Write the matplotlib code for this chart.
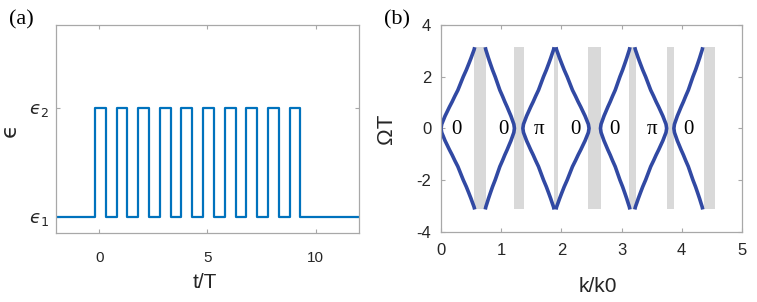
import matplotlib.pyplot as plt

# panel (a): square-wave modulation, high between rise and fall of each period
pulse_rise = [-0.2, 0.8, 1.8, 2.8, 3.8, 4.8, 5.8, 6.8, 7.8, 8.8]
pulse_fall = [0.3, 1.3, 2.3, 3.3, 4.3, 5.3, 6.3, 7.3, 8.3, 9.3]
eps_low, eps_high = 1, 2
t_start, t_end = -2, 12

# panel (b): band curves, each goes from a vertex at OmegaT=0 to an end at +-pi
curve_vertex = [0.0, 1.22, 1.36, 2.46, 2.65, 3.75, 3.87]
curve_end = [0.56, 0.735, 1.88, 1.91, 3.14, 3.22, 4.35]
# profile: fraction of the way vertex -> end vs OmegaT
prof_omega = [0.0, 0.16, 0.32, 0.48, 0.64, 0.83, 1.03, 1.25, 1.48, 1.74,
              2.0, 2.26, 2.52, 2.72, 2.9, 3.04, 3.1416]
prof_frac = [0.0, 0.02, 0.07, 0.12, 0.18, 0.25, 0.33, 0.41, 0.50, 0.58,
             0.66, 0.75, 0.83, 0.89, 0.94, 0.98, 1.0]

gap_left = [0.55, 1.207, 1.875, 2.44, 3.125, 3.75, 4.37]
gap_right = [0.745, 1.373, 1.94, 2.66, 3.236, 3.88, 4.56]

gap_label_k = [0.26, 1.03, 1.63, 2.24, 2.89, 3.50, 4.12]
gap_label_txt = ["0", "0", "π", "0", "0", "π", "0"]

plt.rcParams['mathtext.fontset'] = 'dejavusans'
sans = ['Liberation Sans', 'DejaVu Sans']
serif = ['Liberation Serif', 'DejaVu Serif']
spine_col = '#a8a8a8'
txt_col = '#262626'

fig = plt.figure(figsize=(7.57, 3.02), dpi=100)
ax1 = fig.add_axes([0.074, 0.228, 0.400, 0.689])
ax2 = fig.add_axes([0.5826, 0.233, 0.3974, 0.684])

# ---- (a)
tt = [t_start]
ee = [eps_low]
for r, f in zip(pulse_rise, pulse_fall):
    tt += [r, r, f, f]
    ee += [eps_low, eps_high, eps_high, eps_low]
tt.append(t_end)
ee.append(eps_low)
ax1.plot(tt, ee, color='#0072BD', lw=1.6)
ax1.set_xlim(t_start, t_end)
ax1.set_ylim(0.85, 2.76)
ax1.set_xticks([0, 5, 10])
ax1.set_yticks([1, 2])
ax1.set_yticklabels([r'$ϵ_1$', r'$ϵ_2$'], fontsize=13)
ax1.tick_params(axis='x', pad=13, labelsize=11)
ax1.tick_params(axis='y', pad=5)
ax1.set_xlabel('t/T', fontsize=15, family=sans, color=txt_col)
ax1.xaxis.set_label_coords(0.49, -0.19)
ax1.set_ylabel('ϵ', fontsize=16, color=txt_col)
ax1.yaxis.set_label_coords(-0.12, 0.495)
fig.text(0.028, 0.935, '(a)', fontsize=16, family=serif, ha='center', va='center')

# ---- (b)
for a, b in zip(gap_left, gap_right):
    ax2.fill_between([a, b], -3.1416, 3.1416, color='#d9d9d9', lw=0)
for kv, ke in zip(curve_vertex, curve_end):
    up_k = [kv + (ke - kv) * f for f in prof_frac]
    ks = up_k[::-1] + up_k[1:]
    ws = [-w for w in prof_omega[::-1]] + prof_omega[1:]
    ax2.plot(ks, ws, color='#3149a3', lw=2.6, solid_capstyle='butt')
for k, s in zip(gap_label_k, gap_label_txt):
    ax2.text(k, -0.05, s, fontsize=15, family=serif, ha='center', va='center')
ax2.set_xlim(0, 5)
ax2.set_ylim(-4, 4)
ax2.set_xticks([0, 1, 2, 3, 4, 5])
ax2.set_yticks([-4, -2, 0, 2, 4])
ax2.set_yticklabels(['-4', '-2', '0', '2', '4'])
ax2.tick_params(axis='x', pad=8, labelsize=12)
ax2.tick_params(axis='y', pad=7, labelsize=12)
ax2.set_xlabel('k/k0', fontsize=15, family=sans, color=txt_col)
ax2.xaxis.set_label_coords(0.52, -0.218)
ax2.set_ylabel('ΩT', fontsize=16, family=sans, color=txt_col)
ax2.yaxis.set_label_coords(-0.145, 0.5)
fig.text(0.525, 0.935, '(b)', fontsize=16, family=serif, ha='center', va='center')

for ax in (ax1, ax2):
    for sp in ax.spines.values():
        sp.set_color(spine_col)
        sp.set_linewidth(0.9)
    ax.tick_params(direction='in', length=3, color=spine_col, labelcolor=txt_col,
                   top=True, right=True)
    for lab in ax.get_xticklabels():
        lab.set_family(sans)
    if ax is ax2:
        for lab in ax.get_yticklabels():
            lab.set_family(sans)

fig.savefig('out.png', dpi=100)
